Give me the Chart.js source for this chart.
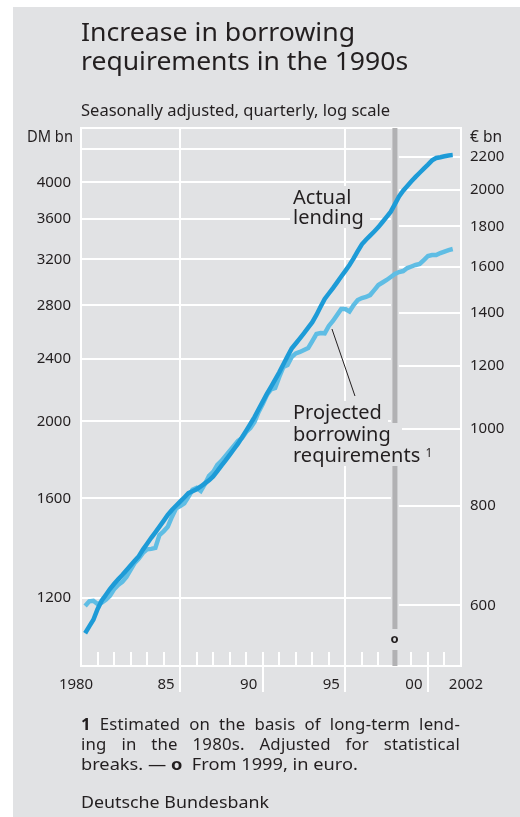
<!DOCTYPE html>
<html>
<head>
<meta charset="utf-8">
<script src="https://cdn.jsdelivr.net/npm/chart.js@4.4.1/dist/chart.umd.min.js"></script>
<style>
  body { margin: 0; background: #fff; font-family: 'Noto Sans', sans-serif; color: #231f20; }
  #wrap { position: relative; width: 520px; height: 817px; overflow: hidden; }
  #panel { position: absolute; left: 13px; top: 7px; right: 0; bottom: 0; background: #e1e2e4; }
  canvas { position: absolute; left: 0; top: 0; }
  .t { position: absolute; line-height: 1; white-space: nowrap; transform-origin: 0 0; }
  .bg { background: #e1e2e4; padding: 1px 0 1px 3px; box-sizing: border-box; }
  #a1, #p1 { z-index: 4; }
  #a2, #p2 { z-index: 3; }
  #p3 { z-index: 2; }
  .fn { width: 379px; text-align: justify; text-align-last: justify; white-space: normal; letter-spacing: 0.2px; }
  sup { font-size: 60%; vertical-align: 0.45em; line-height: 0; }
</style>
</head>
<body>
<div id="wrap">
  <div id="panel"></div>
  <canvas id="chart" width="520" height="817"></canvas>
  <div class="t" id="t1">Increase in borrowing</div>
  <div class="t" id="t2">requirements in the 1990s</div>
  <div class="t" id="sub">Seasonally adjusted, quarterly, log scale</div>
  <div class="t" id="dm">DM bn</div>
  <div class="t" id="eu">€ bn</div>
  <div class="t bg" id="a1">Actual</div>
  <div class="t bg" id="a2">lending</div>
  <div class="t bg" id="p1">Projected</div>
  <div class="t bg" id="p2">borrowing</div>
  <div class="t bg" id="p3">requirements <sup>1</sup></div>
  <div class="t" id="o"><b>o</b></div>
  <div class="t fn" id="f1"><b>1</b> Estimated on the basis of long-term lend-</div>
  <div class="t fn" id="f2">ing in the 1980s. Adjusted for statistical</div>
  <div class="t" id="f3">breaks. — <b>o</b>&nbsp; From 1999, in euro.</div>
  <div class="t" id="f4">Deutsche Bundesbank</div>
</div>
<script>
// quarterly, end of quarter, 1980 Q1 - 2002 Q2
const quarters = [];
for (let y = 1980; y <= 2002; y++) {
  for (let q = 1; q <= 4; q++) {
    if (y < 2002 || q <= 2) quarters.push(y + ' Q' + q);
  }
}

// DM bn (log scale)
const actualLending = [
  1082, 1104, 1125, 1160, 1189, 1209, 1230, 1248, 1265, 1281,
  1299, 1317, 1335, 1353, 1379, 1403, 1427, 1450, 1474, 1499,
  1525, 1547, 1566, 1585, 1604, 1624, 1633, 1643, 1656, 1671,
  1686, 1705, 1731, 1759, 1786, 1815, 1845, 1875, 1910, 1947,
  1985, 2025, 2072, 2118, 2166, 2211, 2258, 2306, 2360, 2416,
  2470, 2507, 2545, 2583, 2625, 2667, 2723, 2788, 2853, 2898,
  2944, 2993, 3044, 3095, 3148, 3209, 3276, 3343, 3387, 3427,
  3469, 3513, 3566, 3619, 3674, 3756, 3840, 3905, 3958, 4012,
  4064, 4113, 4163, 4212, 4264, 4293, 4303, 4315, 4324, 4329
];
const projectedRequirements = [
  1171, 1187, 1189, 1178, 1182, 1192, 1206, 1229, 1245, 1256,
  1274, 1300, 1327, 1344, 1366, 1380, 1382, 1386, 1439, 1454,
  1473, 1516, 1554, 1565, 1577, 1607, 1640, 1649, 1635, 1668,
  1708, 1727, 1763, 1783, 1809, 1836, 1863, 1890, 1906, 1940,
  1962, 1997, 2056, 2104, 2159, 2194, 2204, 2275, 2342, 2355,
  2411, 2436, 2446, 2460, 2474, 2525, 2577, 2584, 2582, 2638,
  2676, 2723, 2771, 2771, 2751, 2803, 2844, 2860, 2869, 2885,
  2927, 2970, 2992, 3014, 3040, 3067, 3084, 3093, 3120, 3134,
  3148, 3157, 3193, 3231, 3240, 3240, 3259, 3273, 3287, 3297
];

const dmTicks = [1200, 1600, 2000, 2400, 2800, 3200, 3600, 4000];
const dmGridOnly = [4400];
const euroTicks = [600, 800, 1000, 1200, 1400, 1600, 1800, 2000, 2200];
const yearLabels = ['1980', '85', '90', '95', '00', '2002'];
const yearLabelAt = [1979.7, 1985.15, 1990.15, 1995.15, 2000.15, 2003.3];
const DM_PER_EURO = 1.95583;
const DM_MIN = 984, DM_MAX = 4683;

const qx = s => +s.slice(0, 4) + +s.slice(6) / 4;
const toPoints = arr => arr.map((v, i) => ({ x: qx(quarters[i]), y: v }));

const tickFont = { family: 'Noto Sans', size: 15 };
const ink = '#231f20';

function line(ctx, x1, y1, x2, y2) {
  ctx.beginPath(); ctx.moveTo(x1, y1); ctx.lineTo(x2, y2); ctx.stroke();
}

const framePlugin = {
  id: 'frame',
  beforeDatasetsDraw(chart) {
    const ctx = chart.ctx, ca = chart.chartArea;
    const x = chart.scales.x, yl = chart.scales.y, yr = chart.scales.y2;
    const barX = x.getPixelForValue(1999);
    ctx.save();
    ctx.strokeStyle = '#fff';
    ctx.lineWidth = 2;
    dmTicks.concat(dmGridOnly).forEach(v => {
      const py = Math.round(yl.getPixelForValue(v));
      line(ctx, ca.left, py, barX - 4, py);
    });
    euroTicks.forEach(v => {
      const py = Math.round(yr.getPixelForValue(v));
      line(ctx, barX + 4, py, ca.right, py);
    });
    for (let y = 1981; y <= 2002; y++) {
      if (y === 1999) continue;
      const px = Math.round(x.getPixelForValue(y));
      const full = y === 1986 || y === 1996;
      const long = y === 1991 || y === 2001;
      line(ctx, px, full ? ca.top : ca.bottom - 14, px, (full || long) ? ca.bottom + 26 : ca.bottom);
    }
    ctx.strokeRect(ca.left, ca.top, ca.right - ca.left, ca.bottom - ca.top);
    // 1999: switch to euro
    ctx.fillStyle = '#b1b1b3';
    ctx.fillRect(barX - 2.5, ca.top, 5, ca.bottom - 37 - ca.top);
    ctx.fillRect(barX - 2.5, ca.bottom - 16, 5, 16);
    ctx.restore();
  },
  afterDatasetsDraw(chart) {
    const ctx = chart.ctx;
    const x = chart.scales.x, yl = chart.scales.y;
    const i = quarters.indexOf('1995 Q1');
    const sx = x.getPixelForValue(qx(quarters[i])) - 1;
    const sy = yl.getPixelForValue(projectedRequirements[i]) + 8;
    ctx.save();
    ctx.strokeStyle = ink;
    ctx.lineWidth = 1;
    line(ctx, sx, sy, sx + 23, sy + 67);
    ctx.restore();
  }
};

new Chart(document.getElementById('chart'), {
  type: 'line',
  data: {
    datasets: [{
      label: 'Actual lending',
      data: toPoints(actualLending),
      borderColor: '#1d9bd7',
      borderWidth: 4.5,
      pointRadius: 0,
      yAxisID: 'y'
    }, {
      label: 'Projected borrowing requirements',
      data: toPoints(projectedRequirements),
      borderColor: '#5fbde4',
      borderWidth: 4.5,
      pointRadius: 0,
      yAxisID: 'y'
    }]
  },
  options: {
    responsive: false,
    animation: false,
    devicePixelRatio: 1,
    layout: { padding: { top: 128, left: 0, right: 0, bottom: 0 } },
    plugins: { legend: { display: false }, tooltip: { enabled: false } },
    scales: {
      x: {
        type: 'linear',
        min: 1980,
        max: 2003,
        grid: { display: false, drawTicks: false },
        border: { display: false },
        afterBuildTicks: s => { s.ticks = yearLabelAt.map(v => ({ value: v })); },
        afterFit: s => { s.height = 817 - 666; },
        ticks: {
          autoSkip: false, maxRotation: 0, padding: 10, color: ink, font: tickFont,
          callback: (v, i) => yearLabels[i]
        }
      },
      y: {
        type: 'logarithmic',
        position: 'left',
        min: DM_MIN,
        max: DM_MAX,
        grid: { display: false, drawTicks: false },
        border: { display: false },
        afterBuildTicks: s => { s.ticks = dmTicks.concat(dmGridOnly).map(v => ({ value: v })); },
        afterFit: s => { s.width = 81; },
        ticks: {
          padding: 10, color: ink, font: tickFont,
          callback: v => dmTicks.includes(v) ? String(v) : ''
        }
      },
      y2: {
        type: 'logarithmic',
        position: 'right',
        min: DM_MIN / DM_PER_EURO,
        max: DM_MAX / DM_PER_EURO,
        grid: { display: false, drawTicks: false },
        border: { display: false },
        afterBuildTicks: s => { s.ticks = euroTicks.map(v => ({ value: v })); },
        afterFit: s => { s.width = 520 - 461; },
        ticks: {
          padding: 9, color: ink, font: tickFont,
          callback: v => String(v)
        }
      }
    }
  },
  plugins: [framePlugin]
});

// text placement: left edge, baseline, font size, target width
function place(id, left, base, size, w) {
  const el = document.getElementById(id);
  el.style.fontSize = size + 'px';
  el.style.left = left + 'px';
  el.style.top = (base - 0.888 * size) + 'px';
  if (w) {
    const r = w / el.getBoundingClientRect().width;
    el.style.transform = 'scaleX(' + r.toFixed(3) + ')';
  }
}
// label lines on a background box: left edge, baseline, box right edge
function label(id, left, base, right) {
  const el = document.getElementById(id);
  el.style.fontSize = '20px';
  el.style.left = (left - 3) + 'px';
  el.style.top = (base - 0.888 * 20 - 1) + 'px';
  el.style.width = (right - left + 3) + 'px';
}
place('t1', 81, 41.7, 24.5, 274);
place('t2', 81, 70.5, 24.5, 327);
place('sub', 81, 116.7, 16, 309);
place('dm', 26.7, 142.3, 15.5, 46);
place('eu', 470, 142.3, 15.5, 32);
label('a1', 293, 204.3, 358);
label('a2', 293, 225, 370);
label('p1', 293, 420, 388);
label('p2', 293, 441.5, 402);
label('p3', 293, 463, 434);
place('o', 390.5, 643.5, 13);
place('f1', 81, 730.7, 16.8);
place('f2', 81, 750.7, 16.8);
place('f3', 81, 770.7, 16.8, 277);
place('f4', 81, 809, 16.8, 188);
</script>
</body>
</html>
